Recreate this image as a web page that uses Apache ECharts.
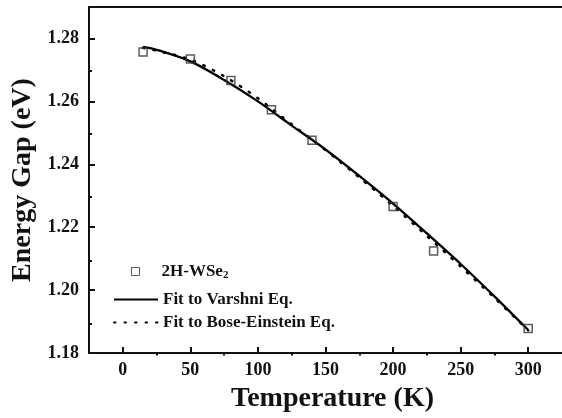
<!DOCTYPE html>
<html>
<head>
<meta charset="utf-8">
<script src="https://cdn.jsdelivr.net/npm/echarts@6/dist/echarts.min.js"></script>
<style>
  html, body { margin: 0; padding: 0; background: #fff; }
  #chart { width: 562px; height: 418px; }
</style>
</head>
<body>
<div id="chart"></div>
<script>
// measured points (2H-WSe2)
const tempPts = [15, 50, 80, 110, 140, 200, 230, 300];
const gapPts = [1.2757, 1.2735, 1.2666, 1.2573, 1.2476, 1.2266, 1.2124, 1.1878];

// fitted curves
const tempFit = [15, 25, 50, 75, 100, 125, 150, 175, 200, 225, 250, 275, 300];
const varshni = [1.2773, 1.2764, 1.2727, 1.2668, 1.2600, 1.2523, 1.2447, 1.2363, 1.2275, 1.2180, 1.2083, 1.1980, 1.1873];
const boseEinstein = [1.2770, 1.2761, 1.2733, 1.2680, 1.2610, 1.2527, 1.2445, 1.2358, 1.2268, 1.2172, 1.2075, 1.1975, 1.1872];

// ticks
const xMajor = [0, 50, 100, 150, 200, 250, 300];
const xMinor = [25, 75, 125, 175, 225, 275];
const yMajor = [1.18, 1.20, 1.22, 1.24, 1.26, 1.28];
const yMinor = [1.19, 1.21, 1.23, 1.25, 1.27];

const font = 'Liberation Serif';
const ink = '#111';

const pair = (xs, ys) => xs.map((x, i) => [x, ys[i]]);

const chart = echarts.init(document.getElementById('chart'));
const gridBox = { left: 89, top: 7, width: 478, height: 348.5 };

chart.setOption({
  backgroundColor: '#fff',
  animation: false,
  grid: [
    Object.assign({ containLabel: false }, gridBox),
    Object.assign({ containLabel: false }, gridBox),
  ],
  xAxis: [
    {
      gridIndex: 0,
      type: 'value',
      min: -25,
      max: 325,
      interval: 25,
      name: 'Temperature (K)',
      nameLocation: 'middle',
      nameGap: 32,
      nameTextStyle: {
        fontFamily: font, fontWeight: 'bold', fontSize: 28, color: ink,
        padding: [0, 0, 0, 14],
      },
      axisLine: { show: true, onZero: false, lineStyle: { color: ink, width: 2 } },
      axisTick: { show: true, inside: true, length: 6, customValues: xMajor, lineStyle: { color: ink, width: 2 } },
      axisLabel: {
        customValues: xMajor, margin: 8,
        fontFamily: font, fontWeight: 'bold', fontSize: 18, color: ink,
      },
      splitLine: { show: false },
    },
    {
      // top frame line
      gridIndex: 0,
      type: 'value',
      position: 'top',
      min: -25,
      max: 325,
      interval: 25,
      axisLine: { show: true, onZero: false, lineStyle: { color: ink, width: 2 } },
      axisTick: { show: false },
      axisLabel: { show: false },
      splitLine: { show: false },
    },
    {
      // minor ticks
      gridIndex: 1,
      type: 'value',
      position: 'bottom',
      min: -25,
      max: 325,
      interval: 25,
      axisLine: { show: false, onZero: false },
      axisTick: { show: true, inside: true, length: 3, customValues: xMinor, lineStyle: { color: ink, width: 2 } },
      axisLabel: { show: false },
      splitLine: { show: false },
    },
  ],
  yAxis: [
    {
      gridIndex: 0,
      type: 'value',
      min: 1.18,
      max: 1.29,
      interval: 0.02,
      name: 'Energy Gap (eV)',
      nameLocation: 'middle',
      nameRotate: 90,
      nameGap: 48,
      nameTextStyle: { fontFamily: font, fontWeight: 'bold', fontSize: 28, color: ink },
      axisLine: { show: true, onZero: false, lineStyle: { color: ink, width: 2 } },
      axisTick: { show: true, inside: true, length: 6, customValues: yMajor, lineStyle: { color: ink, width: 2 } },
      axisLabel: {
        customValues: yMajor, margin: 10,
        formatter: (v) => v.toFixed(2),
        fontFamily: font, fontWeight: 'bold', fontSize: 18, color: ink,
      },
      splitLine: { show: false },
    },
    {
      gridIndex: 1,
      type: 'value',
      position: 'left',
      min: 1.18,
      max: 1.29,
      interval: 0.02,
      axisLine: { show: false, onZero: false },
      axisTick: { show: true, inside: true, length: 3, customValues: yMinor, lineStyle: { color: ink, width: 2 } },
      axisLabel: { show: false },
      splitLine: { show: false },
    },
  ],
  legend: [
    {
      data: ['2H-WSe2'],
      orient: 'vertical',
      left: 131,
      top: 263,
      padding: 0,
      itemWidth: 8,
      itemHeight: 8,
      itemStyle: { borderWidth: 1 },
      textStyle: {
        fontFamily: font, fontWeight: 'bold', fontSize: 17, color: ink,
        padding: [0, 0, 0, 17],
        rich: {
          sub: { fontFamily: font, fontWeight: 'bold', fontSize: 11, color: ink, verticalAlign: 'bottom', padding: [8, 0, 0, 0] },
        },
      },
      formatter: () => '2H-WSe{sub|2}',
    },
    {
      data: ['Fit to Varshni Eq.', 'Fit to Bose-Einstein Eq.'],
      orient: 'vertical',
      left: 113,
      top: 291,
      padding: 0,
      itemWidth: 44,
      itemHeight: 10,
      itemGap: 6,
      itemStyle: { color: 'rgba(0,0,0,0)', borderWidth: 0 },
      textStyle: { fontFamily: font, fontWeight: 'bold', fontSize: 17, color: ink },
    },
  ],
  series: [
    {
      name: 'Fit to Varshni Eq.',
      type: 'line',
      xAxisIndex: 0,
      yAxisIndex: 0,
      data: pair(tempFit, varshni),
      smooth: 0.3,
      symbol: 'none',
      lineStyle: { color: '#000', width: 2.3 },
      itemStyle: { color: '#000' },
      z: 3,
    },
    {
      name: 'Fit to Bose-Einstein Eq.',
      type: 'line',
      xAxisIndex: 0,
      yAxisIndex: 0,
      data: pair(tempFit, boseEinstein),
      smooth: 0.3,
      symbol: 'none',
      lineStyle: { color: '#000', width: 2.5, type: [1.5, 9], cap: 'round' },
      itemStyle: { color: '#000' },
      z: 3,
    },
    {
      name: '2H-WSe2',
      type: 'scatter',
      xAxisIndex: 0,
      yAxisIndex: 0,
      data: pair(tempPts, gapPts),
      symbol: 'rect',
      symbolSize: 8,
      itemStyle: { color: 'rgba(255,255,255,0)', borderColor: '#333', borderWidth: 1.5 },
      z: 4,
    },
  ],
});
</script>
</body>
</html>
